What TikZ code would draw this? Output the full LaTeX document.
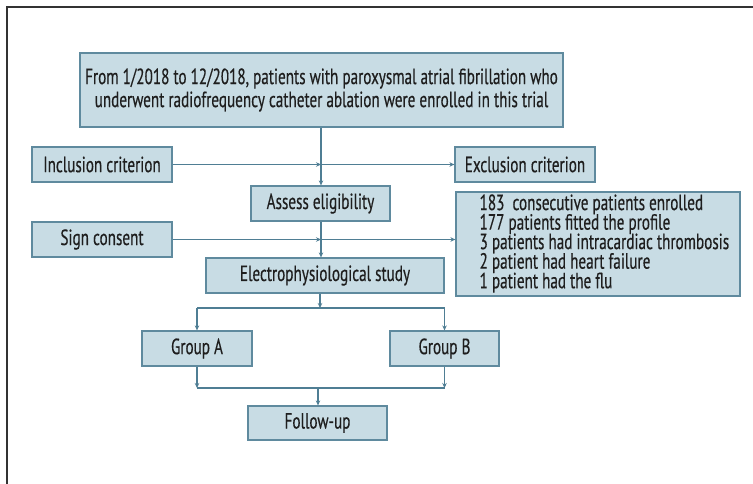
\documentclass[tikz,border=0pt]{standalone}
\usepackage{fontspec}
\setmainfont[FakeStretch=0.69, FakeBold=0.4]{PT Sans}
\usetikzlibrary{arrows.meta}
\definecolor{boxfill}{HTML}{C8DCE4}
\definecolor{boxline}{HTML}{5F8A9E}
\definecolor{arr}{HTML}{4F7E94}
\definecolor{txt}{HTML}{1E1E1E}
\definecolor{frame}{HTML}{333333}
\begin{document}
\begin{tikzpicture}[x=1pt,y=-1pt,
  box/.style={draw=boxline, line width=1.2pt, fill=boxfill, text=txt,
    font=\fontsize{22}{23}\selectfont, inner sep=0pt, align=center},
  conn/.style={draw=arr, line width=1.1pt},
  arrow/.style={conn, -{Stealth[length=5pt,width=4.5pt]}}]
\useasboundingbox (0,0) rectangle (753,484);
\draw[frame, line width=1.2pt] (7,484) -- (7,7) -- (753,7);

\node[box, minimum width=483, minimum height=74] (top) at (321.5,90)
  {From 1/2018 to 12/2018, patients with paroxysmal atrial fibrillation who\\
   underwent radiofrequency catheter ablation were enrolled in this trial};
\node[box, minimum width=140, minimum height=35] (incl) at (102,164.5) {Inclusion criterion};
\node[box, minimum width=140, minimum height=35] (excl) at (525,164.5) {Exclusion criterion};
\node[box, minimum width=139, minimum height=35] (assess) at (320.5,203.5) {Assess eligibility};
\node[box, minimum width=140, minimum height=35] (sign) at (102,239.5) {Sign consent};
\node[box, minimum width=238, minimum height=35] (electro) at (325,275.5) {Electrophysiological study};
\node[box, minimum width=284, minimum height=104] (list) at (598,244) {};
\node[text=txt, font=\fontsize{22}{19.5}\selectfont, align=left, inner sep=0pt, anchor=west]
  (listtext) at ([xshift=24pt,yshift=0.5pt]list.west)
  {183\ \ consecutive patients enrolled\\[-1.5pt]
   177 patients fitted the profile\\[-1.5pt]
   3 patients had intracardiac thrombosis\\[-1.5pt]
   2 patient had heart failure\\[-1.5pt]
   1 patient had the flu};
\node[box, minimum width=110, minimum height=35] (ga) at (197,348.5) {Group A};
\node[box, minimum width=109, minimum height=35] (gb) at (444.5,348.5) {Group B};
\node[box, minimum width=139, minimum height=34] (fu) at (317.5,423) {Follow-up};

\coordinate (j1) at (321,164.5);
\coordinate (j2) at (321,239.5);
\coordinate (s1) at (320,308);
\coordinate (sa) at (197,308);
\coordinate (sb) at (444.5,308);
\coordinate (m1) at (318,388);
\coordinate (ma) at (197,388);
\coordinate (mb) at (444.5,388);

\draw[arrow] (top.south -| j1) -- (assess.north -| j1);
\draw[arrow] (incl.east) -- (j1);
\draw[arrow] (j1) -- (excl.west);
\draw[arrow] (assess.south -| j2) -- (electro.north -| j2);
\draw[arrow] (sign.east) -- (j2);
\draw[arrow] (j2) -- (list.west |- j2);
\draw[arrow] (electro.south -| s1) -- (s1);
\draw[conn] (sa) -- (sb);
\draw[arrow] (sa) -- (ga.north);
\draw[arrow] (sb) -- (gb.north);
\draw[arrow] (ga.south) -- (ma);
\draw[arrow] (gb.south) -- (mb);
\draw[conn] (ma) -- (mb);
\draw[arrow] (m1) -- (fu.north -| m1);
\end{tikzpicture}
\end{document}
